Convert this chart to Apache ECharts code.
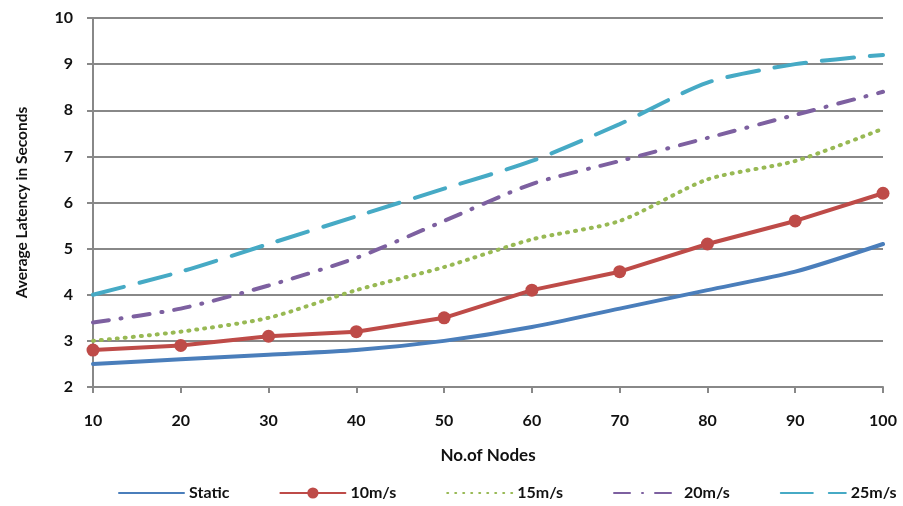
<!DOCTYPE html>
<html><head><meta charset="utf-8">
<script src="https://cdn.jsdelivr.net/npm/echarts@6/dist/echarts.min.js"></script>
<style>html,body{margin:0;padding:0;background:#fff}#c{width:903px;height:506px}</style>
</head><body><div id="c"></div>
<script>
const nodes = ['10','20','30','40','50','60','70','80','90','100'];
const staticVals = [2.5, 2.6, 2.7, 2.8, 3.0, 3.3, 3.7, 4.1, 4.5, 5.1];
const v10 = [2.8, 2.9, 3.1, 3.2, 3.5, 4.1, 4.5, 5.1, 5.6, 6.2];
const v15 = [3.0, 3.2, 3.5, 4.1, 4.6, 5.2, 5.6, 6.5, 6.9, 7.6];
const v20 = [3.4, 3.7, 4.2, 4.8, 5.6, 6.4, 6.9, 7.4, 7.9, 8.4];
const v25 = [4.0, 4.5, 5.1, 5.7, 6.3, 6.9, 7.7, 8.6, 9.0, 9.2];
const yTicks = [2,3,4,5,6,7,8,9,10];

const font = 'Lato, "Open Sans", sans-serif';
const chart = echarts.init(document.getElementById('c'));
function ser(name, data, color, type, extra) {
  return Object.assign({
    name, type: 'line', data, smooth: 0.25, symbol: 'none',
    lineStyle: { color, width: 4, type, cap: 'round' },
    itemStyle: { color }
  }, extra || {});
}
chart.setOption({
  animation: false,
  textStyle: { fontFamily: font },
  grid: { left: 93, right: 20, top: 18, bottom: 119 },
  xAxis: {
    type: 'category', data: nodes, boundaryGap: false,
    name: 'No.of Nodes', nameLocation: 'middle', nameGap: 60,
    nameTextStyle: { fontFamily: font, fontWeight: 'bold', fontSize: 17, color: '#111' },
    axisLine: { lineStyle: { color: '#888', width: 2 } },
    axisTick: { show: true, alignWithLabel: true, length: 6, lineStyle: { color: '#888', width: 2 } },
    axisLabel: { fontFamily: font, fontWeight: 'bold', fontSize: 16, color: '#111', margin: 26 },
    splitLine: { show: false }
  },
  yAxis: {
    type: 'value', min: 2, max: 10, interval: 1,
    name: 'Average Latency in Seconds', nameLocation: 'middle', nameGap: 63, nameRotate: 90,
    nameTextStyle: { fontFamily: font, fontWeight: 'bold', fontSize: 15.5, color: '#111' },
    axisLine: { show: true, lineStyle: { color: '#888', width: 2 } },
    axisTick: { show: true, length: 6, lineStyle: { color: '#888', width: 2 } },
    axisLabel: { fontFamily: font, fontWeight: 'bold', fontSize: 16, color: '#111', margin: 20,
      formatter: v => yTicks.includes(v) ? String(v) : '' },
    splitLine: { lineStyle: { color: '#888', width: 2 } }
  },
  legend: {
    bottom: 0, left: 113, itemWidth: 65, itemHeight: 14, itemGap: 50,
    itemStyle: { opacity: 0 },
    textStyle: { fontFamily: font, fontWeight: 'bold', fontSize: 16, color: '#111' },
    data: [
      { name: 'Static' },
      { name: '10m/s', itemStyle: { opacity: 1 } },
      { name: '15m/s' },
      { name: '20m/s' },
      { name: '25m/s' }
    ]
  },
  series: [
    ser('Static', staticVals, '#4A7EBB', 'solid'),
    ser('10m/s', v10, '#BE4B48', 'solid', { smooth: false, symbol: 'circle', symbolSize: 13 }),
    ser('15m/s', v15, '#98B954', [1, 7]),
    ser('20m/s', v20, '#7D60A0', [16, 12, 1, 12]),
    ser('25m/s', v25, '#46AAC5', [32, 16])
  ]
});
</script></body></html>
